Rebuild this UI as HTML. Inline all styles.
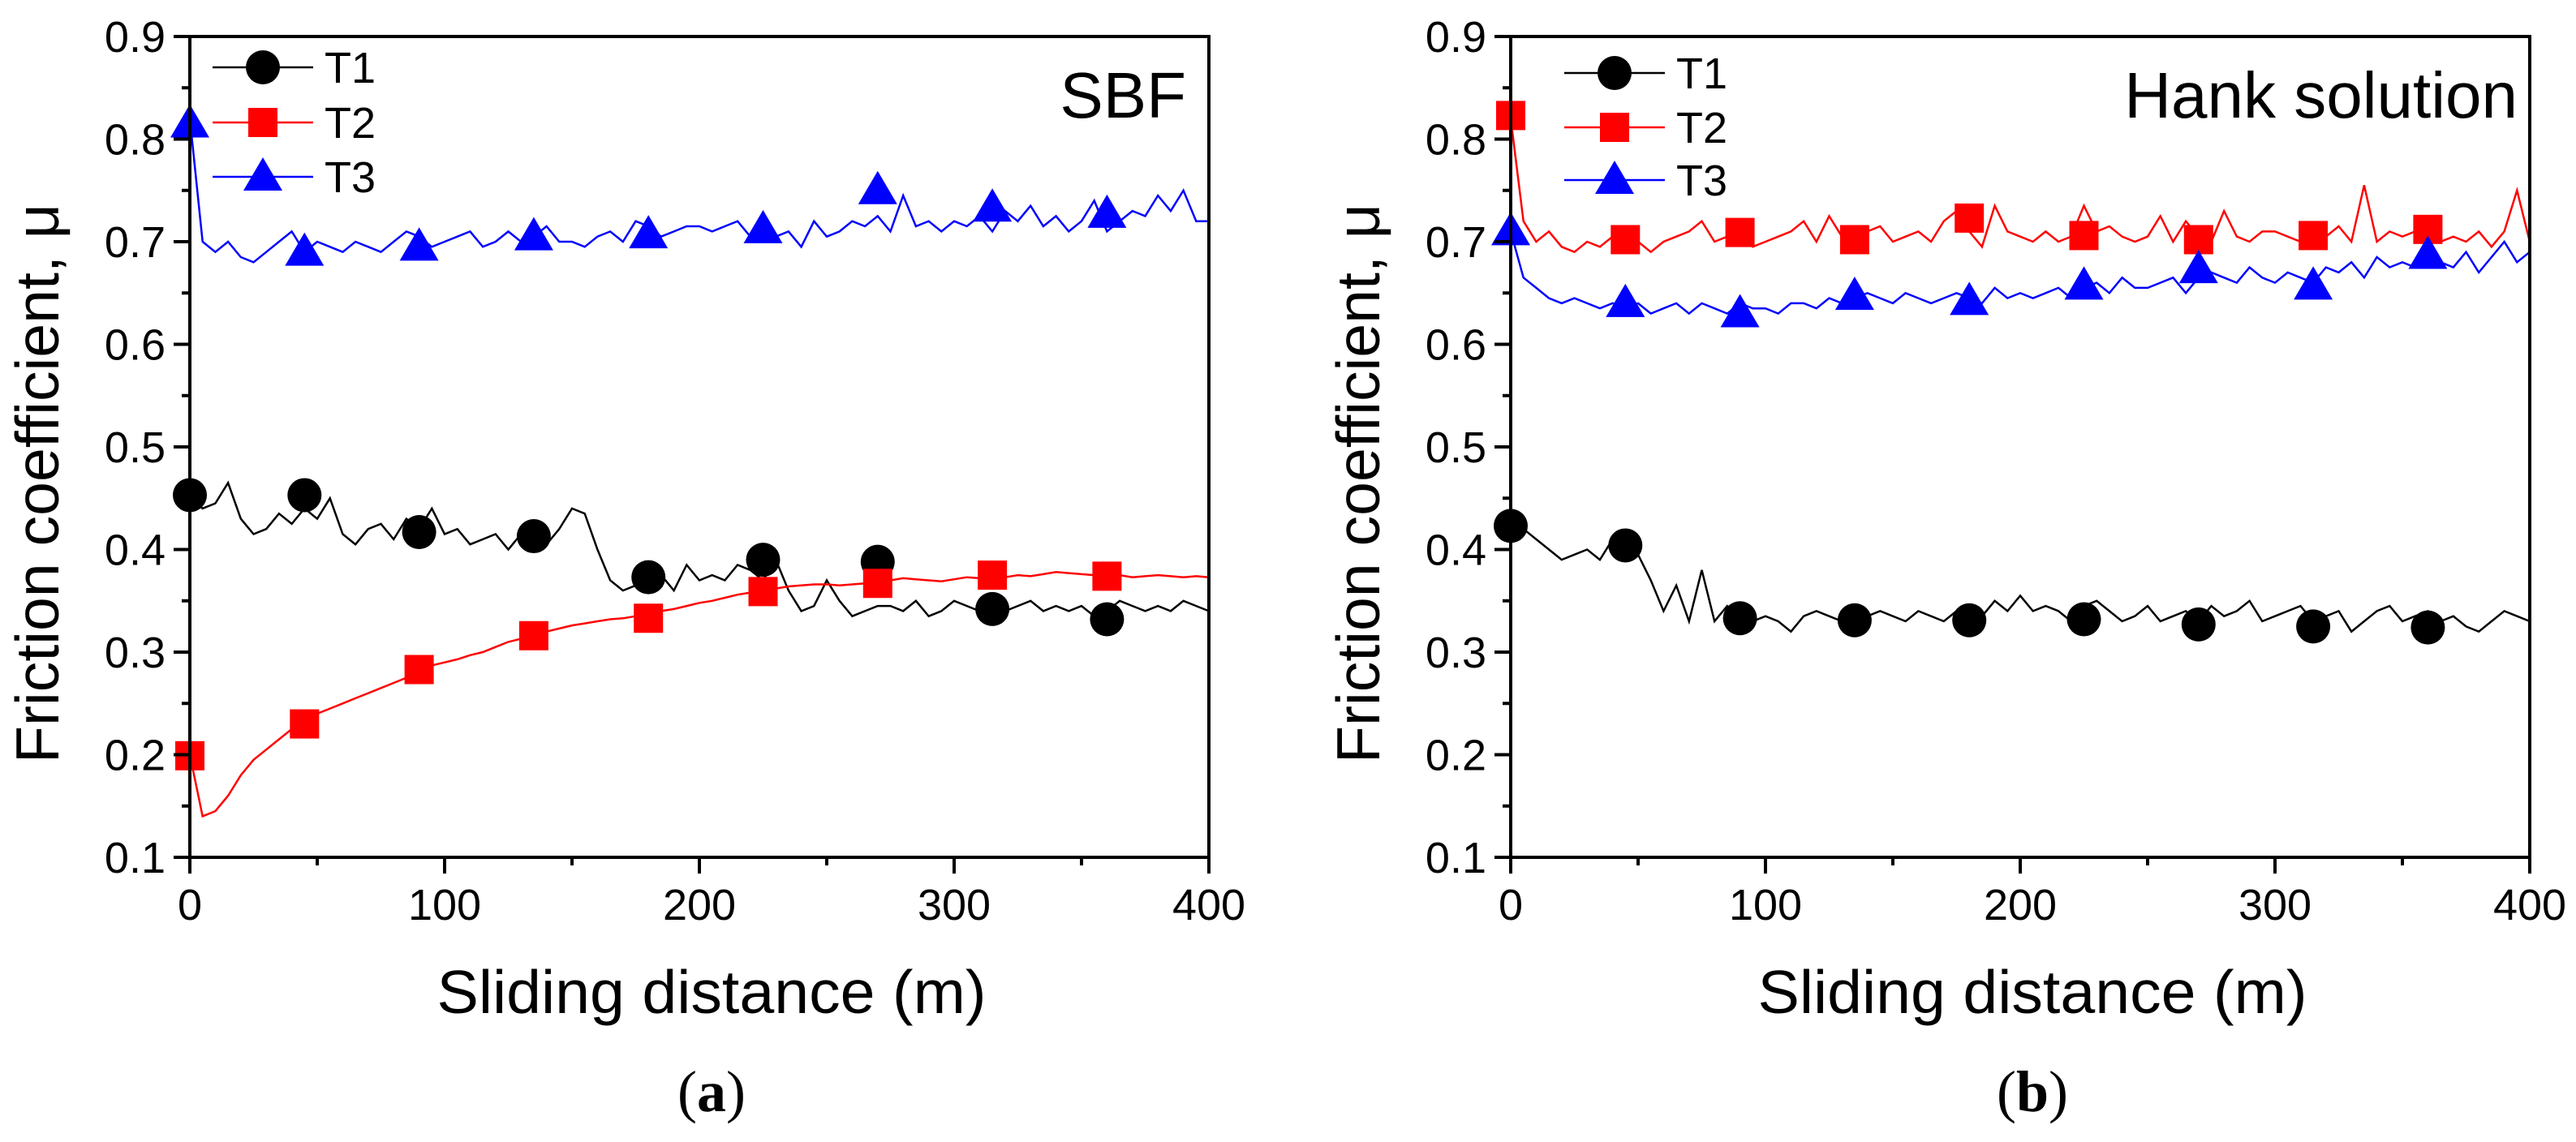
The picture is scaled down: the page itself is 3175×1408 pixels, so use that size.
<!DOCTYPE html>
<html><head><meta charset="utf-8"><style>
html,body{margin:0;padding:0;background:#fff;}
svg{display:block;font-family:"Liberation Sans",sans-serif;}
</style></head><body>
<svg id="fig" width="3175" height="1408" viewBox="0 0 3175 1408" xmlns="http://www.w3.org/2000/svg"></svg>
<script>
const xTicks=[0,100,200,300,400];
const yTicks=[0.1,0.2,0.3,0.4,0.5,0.6,0.7,0.8,0.9];
const markerX=[0,45,90,135,180,225,270,315,360];
const lineStep=5;
const aT1=[.45,.44,.445,.465,.43,.415,.42,.435,.425,.44,.43,.45,.415,.405,.42,.425,.41,.43,.42,.44,.415,.42,.405,.41,.415,.40,.415,.425,.405,.42,.44,.435,.40,.37,.36,.365,.38,.375,.36,.385,.37,.375,.37,.385,.38,.37,.39,.36,.34,.345,.37,.35,.335,.34,.345,.345,.34,.35,.335,.34,.35,.345,.34,.35,.34,.345,.35,.34,.345,.34,.345,.335,.34,.35,.345,.34,.345,.34,.35,.345,.34];
const aT2=[.20,.14,.145,.16,.18,.195,.205,.215,.225,.232,.24,.245,.25,.255,.26,.265,.27,.275,.283,.287,.29,.293,.297,.30,.305,.31,.313,.317,.32,.323,.326,.328,.33,.332,.333,.335,.338,.34,.342,.345,.348,.35,.353,.356,.358,.36,.362,.364,.365,.366,.366,.365,.366,.367,.368,.37,.372,.371,.37,.369,.371,.373,.372,.371,.373,.375,.374,.376,.378,.377,.376,.375,.374,.375,.373,.374,.375,.374,.373,.374,.373];
const aT3=[.82,.70,.69,.70,.685,.68,.69,.70,.71,.69,.70,.695,.69,.70,.695,.69,.70,.71,.705,.695,.70,.705,.71,.695,.70,.71,.70,.705,.715,.70,.70,.695,.705,.71,.70,.72,.715,.705,.71,.715,.715,.71,.715,.72,.705,.70,.705,.71,.695,.72,.705,.71,.72,.715,.725,.71,.745,.715,.72,.71,.72,.715,.725,.71,.73,.72,.735,.715,.725,.71,.72,.74,.71,.72,.73,.725,.745,.73,.75,.72,.72];
const aM1=[.453,.453,.417,.413,.373,.390,.388,.342,.332];
const aM2=[.199,.230,.283,.316,.333,.359,.367,.375,.374];
const aM3=[.815,.690,.695,.705,.707,.712,.750,.733,.727];
const bT1=[.425,.42,.41,.40,.39,.395,.40,.39,.41,.40,.395,.37,.34,.365,.33,.38,.33,.345,.335,.33,.335,.33,.32,.335,.34,.335,.33,.34,.335,.34,.335,.33,.34,.335,.33,.34,.345,.335,.35,.34,.355,.34,.345,.34,.33,.345,.35,.34,.33,.335,.345,.33,.335,.34,.33,.345,.335,.34,.35,.33,.335,.34,.345,.33,.335,.34,.32,.33,.34,.345,.33,.335,.34,.33,.335,.325,.32,.33,.34,.335,.33];
const bT2=[.82,.72,.70,.71,.695,.69,.70,.695,.705,.70,.70,.69,.70,.705,.71,.72,.70,.705,.71,.695,.70,.705,.71,.72,.70,.725,.705,.70,.71,.715,.70,.705,.71,.70,.72,.73,.71,.695,.735,.71,.705,.70,.71,.70,.705,.735,.71,.715,.705,.70,.705,.725,.70,.72,.705,.70,.73,.705,.70,.71,.71,.705,.70,.71,.705,.715,.70,.755,.70,.71,.705,.71,.715,.70,.705,.70,.71,.695,.71,.75,.70];
const bT3=[.71,.665,.655,.645,.64,.645,.64,.635,.64,.635,.64,.63,.635,.64,.63,.64,.635,.63,.64,.635,.635,.63,.64,.64,.635,.645,.64,.645,.65,.645,.64,.65,.645,.64,.645,.65,.645,.64,.655,.645,.65,.645,.65,.655,.645,.655,.66,.65,.665,.655,.655,.66,.665,.65,.665,.67,.665,.66,.675,.665,.66,.67,.665,.66,.675,.67,.68,.665,.685,.675,.68,.675,.685,.68,.675,.69,.67,.685,.70,.68,.69];
const bM1=[.423,.404,.333,.331,.331,.332,.327,.325,.324];
const bM2=[.823,.702,.709,.702,.723,.706,.702,.706,.712];
const bM3=[.710,.640,.630,.647,.642,.657,.673,.657,.687];

const NS="http://www.w3.org/2000/svg";
const svg=document.getElementById('fig');
function mk(tag,attrs,parent){const e=document.createElementNS(NS,tag);for(const k in attrs)e.setAttribute(k,attrs[k]);(parent||svg).appendChild(e);return e;}

function panel(cfg){
  const L=cfg.left,T=45,B=1057,W=1256,R=L+W;
  const g=mk('g',{});
  
  
  const sx=v=>L+v/400*W;
  const sy=v=>B-(v-0.1)/0.8*(B-T);
  const cols={T1:'#000',T2:'#ff0000',T3:'#0000ff'};
  const series=[['T1',cfg.t1,cfg.m1,'circle'],['T2',cfg.t2,cfg.m2,'square'],['T3',cfg.t3,cfg.m3,'triangle']];
  // lines
  series.forEach(s=>{
    const pts=s[1].map((v,i)=>sx(i*lineStep).toFixed(1)+','+sy(v).toFixed(1)).join(' ');
    const pl=mk('polyline',{points:pts,fill:'none',stroke:cols[s[0]],'stroke-width':2.5},g);
    
    
  });
  function marker(type,cx,cy,col,parent){
    let e;
    if(type==='circle')e=mk('circle',{cx:cx,cy:cy,r:21,fill:col},parent);
    else if(type==='square')e=mk('rect',{x:cx-18,y:cy-18,width:36,height:36,fill:col},parent);
    else e=mk('polygon',{points:`${cx},${cy-24} ${cx+24},${cy+17} ${cx-24},${cy+17}`,fill:col},parent);
    return e;
  }
  series.forEach(s=>{
    s[2].forEach((v,i)=>{
      const e=marker(s[3],sx(markerX[i]),sy(v),cols[s[0]],g);
      
      
    });
  });
  // frame
  const fr=mk('rect',{x:L,y:T,width:W,height:B-T,fill:'none',stroke:'#000','stroke-width':4},g);
  
  
  // x ticks
  for(let v=0;v<=400;v+=50){
    const major=v%100===0;
    mk('line',{x1:sx(v),y1:B,x2:sx(v),y2:B+(major?20:10),stroke:'#000','stroke-width':4},g);
  }
  xTicks.forEach(v=>{
    const t=mk('text',{x:sx(v),y:1134,'font-size':54,'text-anchor':'middle'},g);
    t.textContent=String(v);
    
    
  });
  for(let k=0;k<=16;k++){
    const v=0.1+k*0.05;const major=k%2===0;
    mk('line',{x1:L,y1:sy(v),x2:L-(major?20:10),y2:sy(v),stroke:'#000','stroke-width':4},g);
  }
  yTicks.forEach(v=>{
    const t=mk('text',{x:L-30,y:sy(v)+19,'font-size':54,'text-anchor':'end'},g);
    t.textContent=v.toFixed(1);
    
    
  });
  const xt=mk('text',{x:L+W/2+15,y:1249,'font-size':75,'text-anchor':'middle',textLength:677,lengthAdjust:'spacingAndGlyphs'},g);
  xt.textContent='Sliding distance (m)';
  
  
  const yt=mk('text',{x:0,y:0,'font-size':75,'text-anchor':'middle',transform:`translate(${L-162},${(T+B)/2+45}) rotate(-90)`,textLength:690,lengthAdjust:'spacingAndGlyphs'},g);
  yt.textContent='Friction coefficient, \u03bc';
  
  
  const lab=mk('text',{x:L+W/2+15,y:1370,'font-size':72,'text-anchor':'middle','font-family':'Liberation Serif, serif'},g);
  lab.innerHTML='(<tspan font-weight="bold">'+cfg.label+'</tspan>)';
  
  
  const ann=mk('text',{x:L+cfg.annRight,y:145,'font-size':80,'text-anchor':'end'},g);
  ann.textContent=cfg.ann;
  
  
  // legend
  const lg=mk('g',{},g);
  
  
  series.forEach((s,i)=>{
    const y=cfg.legY[i];
    const x0=L+cfg.legX;
    const ent=mk('g',{},lg);
    
    
    mk('line',{x1:x0,y1:y,x2:x0+124,y2:y,stroke:cols[s[0]],'stroke-width':2.5},ent);
    marker(s[3],x0+62,y,cols[s[0]],ent);
    const t=mk('text',{x:x0+138,y:y+19,'font-size':54},ent);
    t.textContent=s[0];
  });
}
panel({name:'panel-a-sbf',left:234,t1:aT1,t2:aT2,t3:aT3,m1:aM1,m2:aM2,m3:aM3,label:'a',ann:'SBF',annRight:1228,legX:28,legY:[83,151,218]});
panel({name:'panel-b-hank',left:1862,t1:bT1,t2:bT2,t3:bT3,m1:bM1,m2:bM2,m3:bM3,label:'b',ann:'Hank solution',annRight:1241,legX:66,legY:[90,157,222]});
</script>
</body></html>
